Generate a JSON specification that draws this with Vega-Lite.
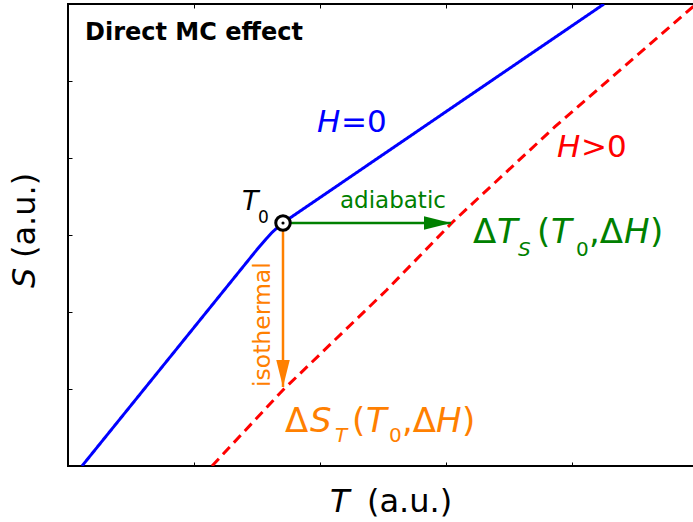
{
  "$schema": "https://vega.github.io/schema/vega-lite/v6.json",
  "width": 630,
  "height": 462,
  "autosize": {"type": "none"},
  "padding": {"left": 68, "top": 4, "right": 0, "bottom": 56},
  "background": "white",
  "config": {
    "view": {"stroke": "black", "strokeWidth": 2},
    "axis": {"labels": false, "title": null, "domain": false, "grid": false, "ticks": true, "tickSize": -4, "tickColor": "black", "tickWidth": 1}
  },
  "datasets": {
    "curves": [
      {"series": "H=0", "T": 14, "S": 0},
      {"series": "H=0", "T": 187, "S": 214},
      {"series": "H=0", "T": 192, "S": 220},
      {"series": "H=0", "T": 198, "S": 227},
      {"series": "H=0", "T": 204, "S": 233.5},
      {"series": "H=0", "T": 210, "S": 239},
      {"series": "H=0", "T": 215, "S": 243},
      {"series": "H=0", "T": 222, "S": 248},
      {"series": "H=0", "T": 536, "S": 462},
      {"series": "H>0", "T": 144, "S": 0},
      {"series": "H>0", "T": 215, "S": 76},
      {"series": "H>0", "T": 318.7, "S": 176},
      {"series": "H>0", "T": 385, "S": 244.3},
      {"series": "H>0", "T": 487, "S": 339.3},
      {"series": "H>0", "T": 625, "S": 459.3},
      {"series": "H>0", "T": 629, "S": 462}
    ],
    "processes": [
      {"series": "adiabatic", "T": 215, "S": 243, "T2": 383, "S2": 243},
      {"series": "isothermal", "T": 215, "S": 243, "T2": 215, "S2": 79}
    ],
    "state": [{"T": 215, "S": 243}],
    "title": [{"text": "Direct MC effect", "T": 17, "S": 426}],
    "upright_labels": [
      {"text": "=0", "T": 273, "S": 334, "series": "H=0", "role": "curve"},
      {"text": ">0", "T": 513, "S": 309, "series": "H>0", "role": "curve"},
      {"text": "0", "T": 190, "S": 243, "series": "reference", "role": "state-sub"},
      {"text": "adiabatic", "T": 272, "S": 258, "series": "adiabatic", "role": "process"},
      {"text": "Δ", "T": 405, "S": 223, "series": "adiabatic", "role": "equation"},
      {"text": "(", "T": 469, "S": 223, "series": "adiabatic", "role": "equation"},
      {"text": "0", "T": 508, "S": 210, "series": "adiabatic", "role": "equation-sub"},
      {"text": ",Δ", "T": 521, "S": 223, "series": "adiabatic", "role": "equation"},
      {"text": ")", "T": 582, "S": 223, "series": "adiabatic", "role": "equation"},
      {"text": "Δ", "T": 217, "S": 34, "series": "isothermal", "role": "equation"},
      {"text": "(", "T": 284, "S": 34, "series": "isothermal", "role": "equation"},
      {"text": "0", "T": 321, "S": 24, "series": "isothermal", "role": "equation-sub"},
      {"text": ",Δ", "T": 334, "S": 34, "series": "isothermal", "role": "equation"},
      {"text": ")", "T": 394, "S": 34, "series": "isothermal", "role": "equation"},
      {"text": "(a.u.)", "T": 299, "S": -46, "series": "reference", "role": "axis"}
    ],
    "italic_labels": [
      {"text": "H", "T": 249, "S": 334, "series": "H=0", "role": "curve"},
      {"text": "H", "T": 489, "S": 309, "series": "H>0", "role": "curve"},
      {"text": "T", "T": 174, "S": 256, "series": "reference", "role": "state"},
      {"text": "T", "T": 429, "S": 223, "series": "adiabatic", "role": "equation"},
      {"text": "S", "T": 450, "S": 210, "series": "adiabatic", "role": "equation-sub"},
      {"text": "T", "T": 483, "S": 223, "series": "adiabatic", "role": "equation"},
      {"text": "H", "T": 556, "S": 223, "series": "adiabatic", "role": "equation"},
      {"text": "S", "T": 242, "S": 34, "series": "isothermal", "role": "equation"},
      {"text": "T", "T": 267, "S": 24, "series": "isothermal", "role": "equation-sub"},
      {"text": "T", "T": 298, "S": 34, "series": "isothermal", "role": "equation"},
      {"text": "H", "T": 368, "S": 34, "series": "isothermal", "role": "equation"},
      {"text": "T", "T": 262, "S": -46, "series": "reference", "role": "axis"}
    ],
    "vertical_labels": [
      {"text": "isothermal", "T": 202, "S": 79, "series": "isothermal", "role": "process"},
      {"text": "(a.u.)", "T": -33, "S": 208, "series": "reference", "role": "axis"}
    ],
    "vertical_italic_labels": [
      {"text": "S", "T": -33, "S": 178, "series": "reference", "role": "axis"}
    ]
  },
  "layer": [
    {
      "data": {"name": "curves"},
      "mark": {"type": "line", "strokeWidth": 3, "clip": true},
      "encoding": {
        "x": {"field": "T", "type": "quantitative", "scale": {"domain": [0, 630], "nice": false, "zero": false}, "axis": {"orient": "bottom", "values": [126, 252, 378, 504, 630]}},
        "y": {"field": "S", "type": "quantitative", "scale": {"domain": [0, 462], "nice": false, "zero": false}, "axis": {"orient": "left", "values": [77, 154, 231, 308, 385]}},
        "color": {"field": "series", "type": "nominal", "scale": {"domain": ["H=0", "H>0", "adiabatic", "isothermal", "reference"], "range": ["#0000ff", "#ff0000", "#008000", "#ff8000", "#000000"]}, "legend": null},
        "strokeDash": {"field": "series", "type": "nominal", "scale": {"domain": ["H=0", "H>0"], "range": [[1, 0], [10, 6]]}, "legend": null}
      }
    },
    {
      "data": {"name": "processes"},
      "mark": {"type": "rule", "strokeWidth": 2.5},
      "encoding": {
        "x": {"field": "T", "type": "quantitative", "scale": {"domain": [0, 630], "nice": false, "zero": false}, "axis": {"orient": "top", "values": [126, 252, 378, 504, 630]}},
        "x2": {"field": "T2"},
        "y": {"field": "S", "type": "quantitative", "scale": {"domain": [0, 462], "nice": false, "zero": false}, "axis": null},
        "y2": {"field": "S2"},
        "color": {"field": "series", "type": "nominal", "legend": null}
      }
    },
    {
      "data": {"name": "processes"},
      "mark": {"type": "point", "filled": true, "opacity": 1, "size": 729, "strokeWidth": 0},
      "encoding": {
        "x": {"field": "T2", "type": "quantitative", "scale": {"domain": [0, 630], "nice": false, "zero": false}, "axis": null},
        "y": {"field": "S2", "type": "quantitative", "scale": {"domain": [0, 462], "nice": false, "zero": false}, "axis": null},
        "color": {"field": "series", "type": "nominal", "legend": null},
        "shape": {"field": "series", "type": "nominal", "scale": {"domain": ["adiabatic", "isothermal"], "range": ["M0,0L-2,-0.5L-2,0.5Z", "M0,0L-0.5,-2L0.5,-2Z"]}, "legend": null}
      }
    },
    {
      "data": {"name": "state"},
      "mark": {"type": "point", "shape": "circle", "size": 210, "stroke": "black", "strokeWidth": 3, "fill": "white", "fillOpacity": 1, "opacity": 1},
      "encoding": {
        "x": {"field": "T", "type": "quantitative", "scale": {"domain": [0, 630], "nice": false, "zero": false}, "axis": null},
        "y": {"field": "S", "type": "quantitative", "scale": {"domain": [0, 462], "nice": false, "zero": false}, "axis": null}
      }
    },
    {
      "data": {"name": "state"},
      "mark": {"type": "point", "shape": "circle", "size": 10, "filled": true, "color": "black", "opacity": 1},
      "encoding": {
        "x": {"field": "T", "type": "quantitative", "scale": {"domain": [0, 630], "nice": false, "zero": false}, "axis": null},
        "y": {"field": "S", "type": "quantitative", "scale": {"domain": [0, 462], "nice": false, "zero": false}, "axis": null}
      }
    },
    {
      "data": {"name": "title"},
      "mark": {"type": "text", "align": "left", "baseline": "alphabetic", "font": "DejaVu Sans", "fontWeight": "bold", "fontSize": 24, "color": "black"},
      "encoding": {
        "x": {"field": "T", "type": "quantitative", "scale": {"domain": [0, 630], "nice": false, "zero": false}, "axis": null},
        "y": {"field": "S", "type": "quantitative", "scale": {"domain": [0, 462], "nice": false, "zero": false}, "axis": null},
        "text": {"field": "text"}
      }
    },
    {
      "data": {"name": "upright_labels"},
      "mark": {"type": "text", "align": "left", "baseline": "alphabetic", "font": "DejaVu Sans", "clip": false},
      "encoding": {
        "x": {"field": "T", "type": "quantitative", "scale": {"domain": [0, 630], "nice": false, "zero": false}, "axis": null},
        "y": {"field": "S", "type": "quantitative", "scale": {"domain": [0, 462], "nice": false, "zero": false}, "axis": null},
        "text": {"field": "text"},
        "color": {"field": "series", "type": "nominal", "legend": null},
        "size": {"condition": [
          {"test": "datum.role === 'equation'", "value": 34},
          {"test": "datum.role === 'equation-sub'", "value": 20},
          {"test": "datum.role === 'curve'", "value": 31},
          {"test": "datum.role === 'state'", "value": 27},
          {"test": "datum.role === 'state-sub'", "value": 17},
          {"test": "datum.role === 'axis'", "value": 32}
        ], "value": 23}
      }
    },
    {
      "data": {"name": "italic_labels"},
      "mark": {"type": "text", "align": "left", "baseline": "alphabetic", "font": "DejaVu Sans", "fontStyle": "italic", "clip": false},
      "encoding": {
        "x": {"field": "T", "type": "quantitative", "scale": {"domain": [0, 630], "nice": false, "zero": false}, "axis": null},
        "y": {"field": "S", "type": "quantitative", "scale": {"domain": [0, 462], "nice": false, "zero": false}, "axis": null},
        "text": {"field": "text"},
        "color": {"field": "series", "type": "nominal", "legend": null},
        "size": {"condition": [
          {"test": "datum.role === 'equation'", "value": 34},
          {"test": "datum.role === 'equation-sub'", "value": 20},
          {"test": "datum.role === 'curve'", "value": 31},
          {"test": "datum.role === 'state'", "value": 27},
          {"test": "datum.role === 'state-sub'", "value": 17},
          {"test": "datum.role === 'axis'", "value": 32}
        ], "value": 23}
      }
    },
    {
      "data": {"name": "vertical_labels"},
      "mark": {"type": "text", "align": "left", "baseline": "alphabetic", "font": "DejaVu Sans", "angle": 270, "clip": false},
      "encoding": {
        "x": {"field": "T", "type": "quantitative", "scale": {"domain": [0, 630], "nice": false, "zero": false}, "axis": null},
        "y": {"field": "S", "type": "quantitative", "scale": {"domain": [0, 462], "nice": false, "zero": false}, "axis": null},
        "text": {"field": "text"},
        "color": {"field": "series", "type": "nominal", "legend": null},
        "size": {"condition": [{"test": "datum.role === 'axis'", "value": 32}], "value": 23.5}
      }
    },
    {
      "data": {"name": "vertical_italic_labels"},
      "mark": {"type": "text", "align": "left", "baseline": "alphabetic", "font": "DejaVu Sans", "fontStyle": "italic", "angle": 270, "fontSize": 32, "clip": false},
      "encoding": {
        "x": {"field": "T", "type": "quantitative", "scale": {"domain": [0, 630], "nice": false, "zero": false}, "axis": null},
        "y": {"field": "S", "type": "quantitative", "scale": {"domain": [0, 462], "nice": false, "zero": false}, "axis": null},
        "text": {"field": "text"},
        "color": {"field": "series", "type": "nominal", "legend": null}
      }
    }
  ],
  "resolve": {"axis": {"x": "independent", "y": "independent"}}
}
